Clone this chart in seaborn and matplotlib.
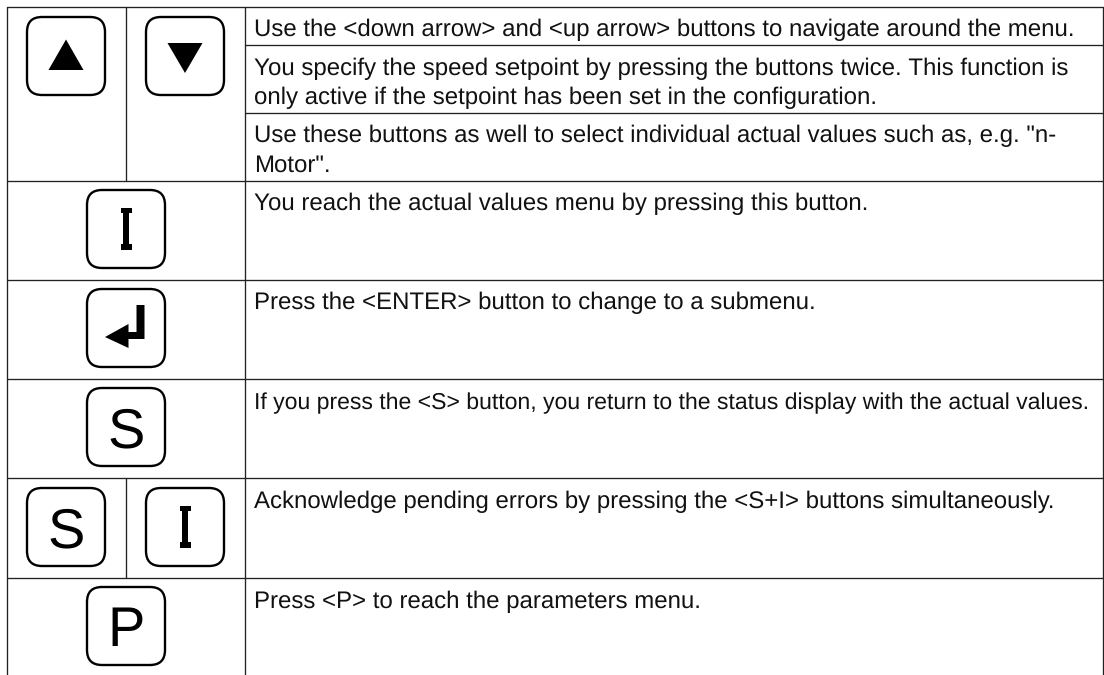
import matplotlib
matplotlib.use("Agg")
import matplotlib.pyplot as plt
import pandas as pd
import seaborn as sns
from matplotlib.patches import FancyBboxPatch, Polygon

# table layout in image pixels
col_edges = [7, 126, 244.5, 1103]
full_rows = [7, 180.5, 279.5, 379, 478, 578]  # rules across the whole table
text_rows = [45, 113]  # rules across the description column only
table_bottom = 675
rows_split = [(7, 180.5), (478, 578)]  # rows where the key column is divided

# description texts: (text, baseline y, font size)
descriptions = [
    ("Use the <down arrow> and <up arrow> buttons to navigate around the menu.", 36.5, 17.3),
    ("You specify the speed setpoint by pressing the buttons twice. This function is", 75.5, 17.3),
    ("only active if the setpoint has been set in the configuration.", 104.5, 17.3),
    ("Use these buttons as well to select individual actual values such as, e.g. \"n-", 142.5, 17.3),
    ("Motor\".", 171.5, 17.3),
    ("You reach the actual values menu by pressing this button.", 210.5, 17.3),
    ("Press the <ENTER> button to change to a submenu.", 309.5, 17.3),
    # this line runs tight against the cell edge in the original
    ("If you press the <S> button, you return to the status display with the actual values.", 409, 16.65),
    ("Acknowledge pending errors by pressing the <S+I> buttons simultaneously.", 508.5, 17.3),
    ("Press <P> to reach the parameters menu.", 608.5, 17.3),
]

# keys: (glyph, left, top)
keys = [
    ("up", 27, 17),
    ("down", 146, 17),
    ("I", 87, 190),
    ("enter", 87, 289),
    ("S", 87, 388),
    ("S", 27, 488),
    ("I", 146, 488),
    ("P", 87, 587),
]
KEY_SIZE = 78

sns.set_theme(style="white")
plt.rcParams["font.family"] = ["Liberation Sans", "DejaVu Sans"]
plt.rcParams["text.hinting"] = "none"
plt.rcParams["text.hinting_factor"] = 1

fig = plt.figure(figsize=(11.04, 6.75), dpi=100)
ax = fig.add_axes([0, 0, 1, 1])

# table rules as one long frame, one unit per rule
rules = []
for i, y in enumerate(full_rows):
    rules += [(f"h{i}", col_edges[0], y), (f"h{i}", col_edges[-1], y)]
for i, y in enumerate(text_rows):
    rules += [(f"t{i}", col_edges[2], y), (f"t{i}", col_edges[-1], y)]
for i, x in enumerate([col_edges[0], col_edges[2], col_edges[3]]):
    rules += [(f"v{i}", x, full_rows[0]), (f"v{i}", x, table_bottom)]
for i, (top, bottom) in enumerate(rows_split):
    rules += [(f"s{i}", col_edges[1], top), (f"s{i}", col_edges[1], bottom)]
df_rules = pd.DataFrame(rules, columns=["rule", "x", "y"])
sns.lineplot(data=df_rules, x="x", y="y", units="rule", estimator=None, sort=False,
             color="#222222", linewidth=0.95, legend=False, ax=ax)


def draw_glyph(ax, name, cx, top):
    # shapes are given relative to the key centre
    cy = top + KEY_SIZE / 2
    if name == "up":
        pts = [(0, -16.5), (-17.5, 14), (17.5, 14)]
    elif name == "down":
        pts = [(-17.5, -13), (17.5, -13), (0, 17)]
    elif name == "I":
        pts = [(-5.5, -21), (5.5, -21), (5.5, -16), (3, -16), (3, 15), (5.5, 15),
               (5.5, 21), (-5.5, 21), (-5.5, 15), (-3, 15), (-3, -16), (-5.5, -16)]
    elif name == "enter":
        pts = [(10.5, -23), (18.5, -23), (18.5, 11), (2.5, 11), (2.5, 20), (-21, 9),
               (2.5, -4), (2.5, 4), (10.5, 4)]
    else:
        ax.text(cx, cy + 20, name, ha="center", va="baseline", fontsize=40, color="black")
        return
    ax.add_patch(Polygon([(cx + px, cy + py) for px, py in pts], closed=True,
                         facecolor="black", edgecolor="none"))


for name, left, top in keys:
    ax.add_patch(FancyBboxPatch((left + 14, top + 14), KEY_SIZE - 28, KEY_SIZE - 28,
                                boxstyle="round,pad=14,rounding_size=15",
                                facecolor="white", edgecolor="black", linewidth=1.7))
    draw_glyph(ax, name, left + KEY_SIZE / 2, top)

for text, y, size in descriptions:
    ax.text(254, y, text, ha="left", va="baseline", fontsize=size, color="#111111")

ax.set_xlim(0, 1104)
ax.set_ylim(675, 0)
ax.set_xlabel("")
ax.set_ylabel("")
ax.set_xticks([])
ax.set_yticks([])
sns.despine(ax=ax, left=True, bottom=True)

fig.savefig("out.png", dpi=100)
